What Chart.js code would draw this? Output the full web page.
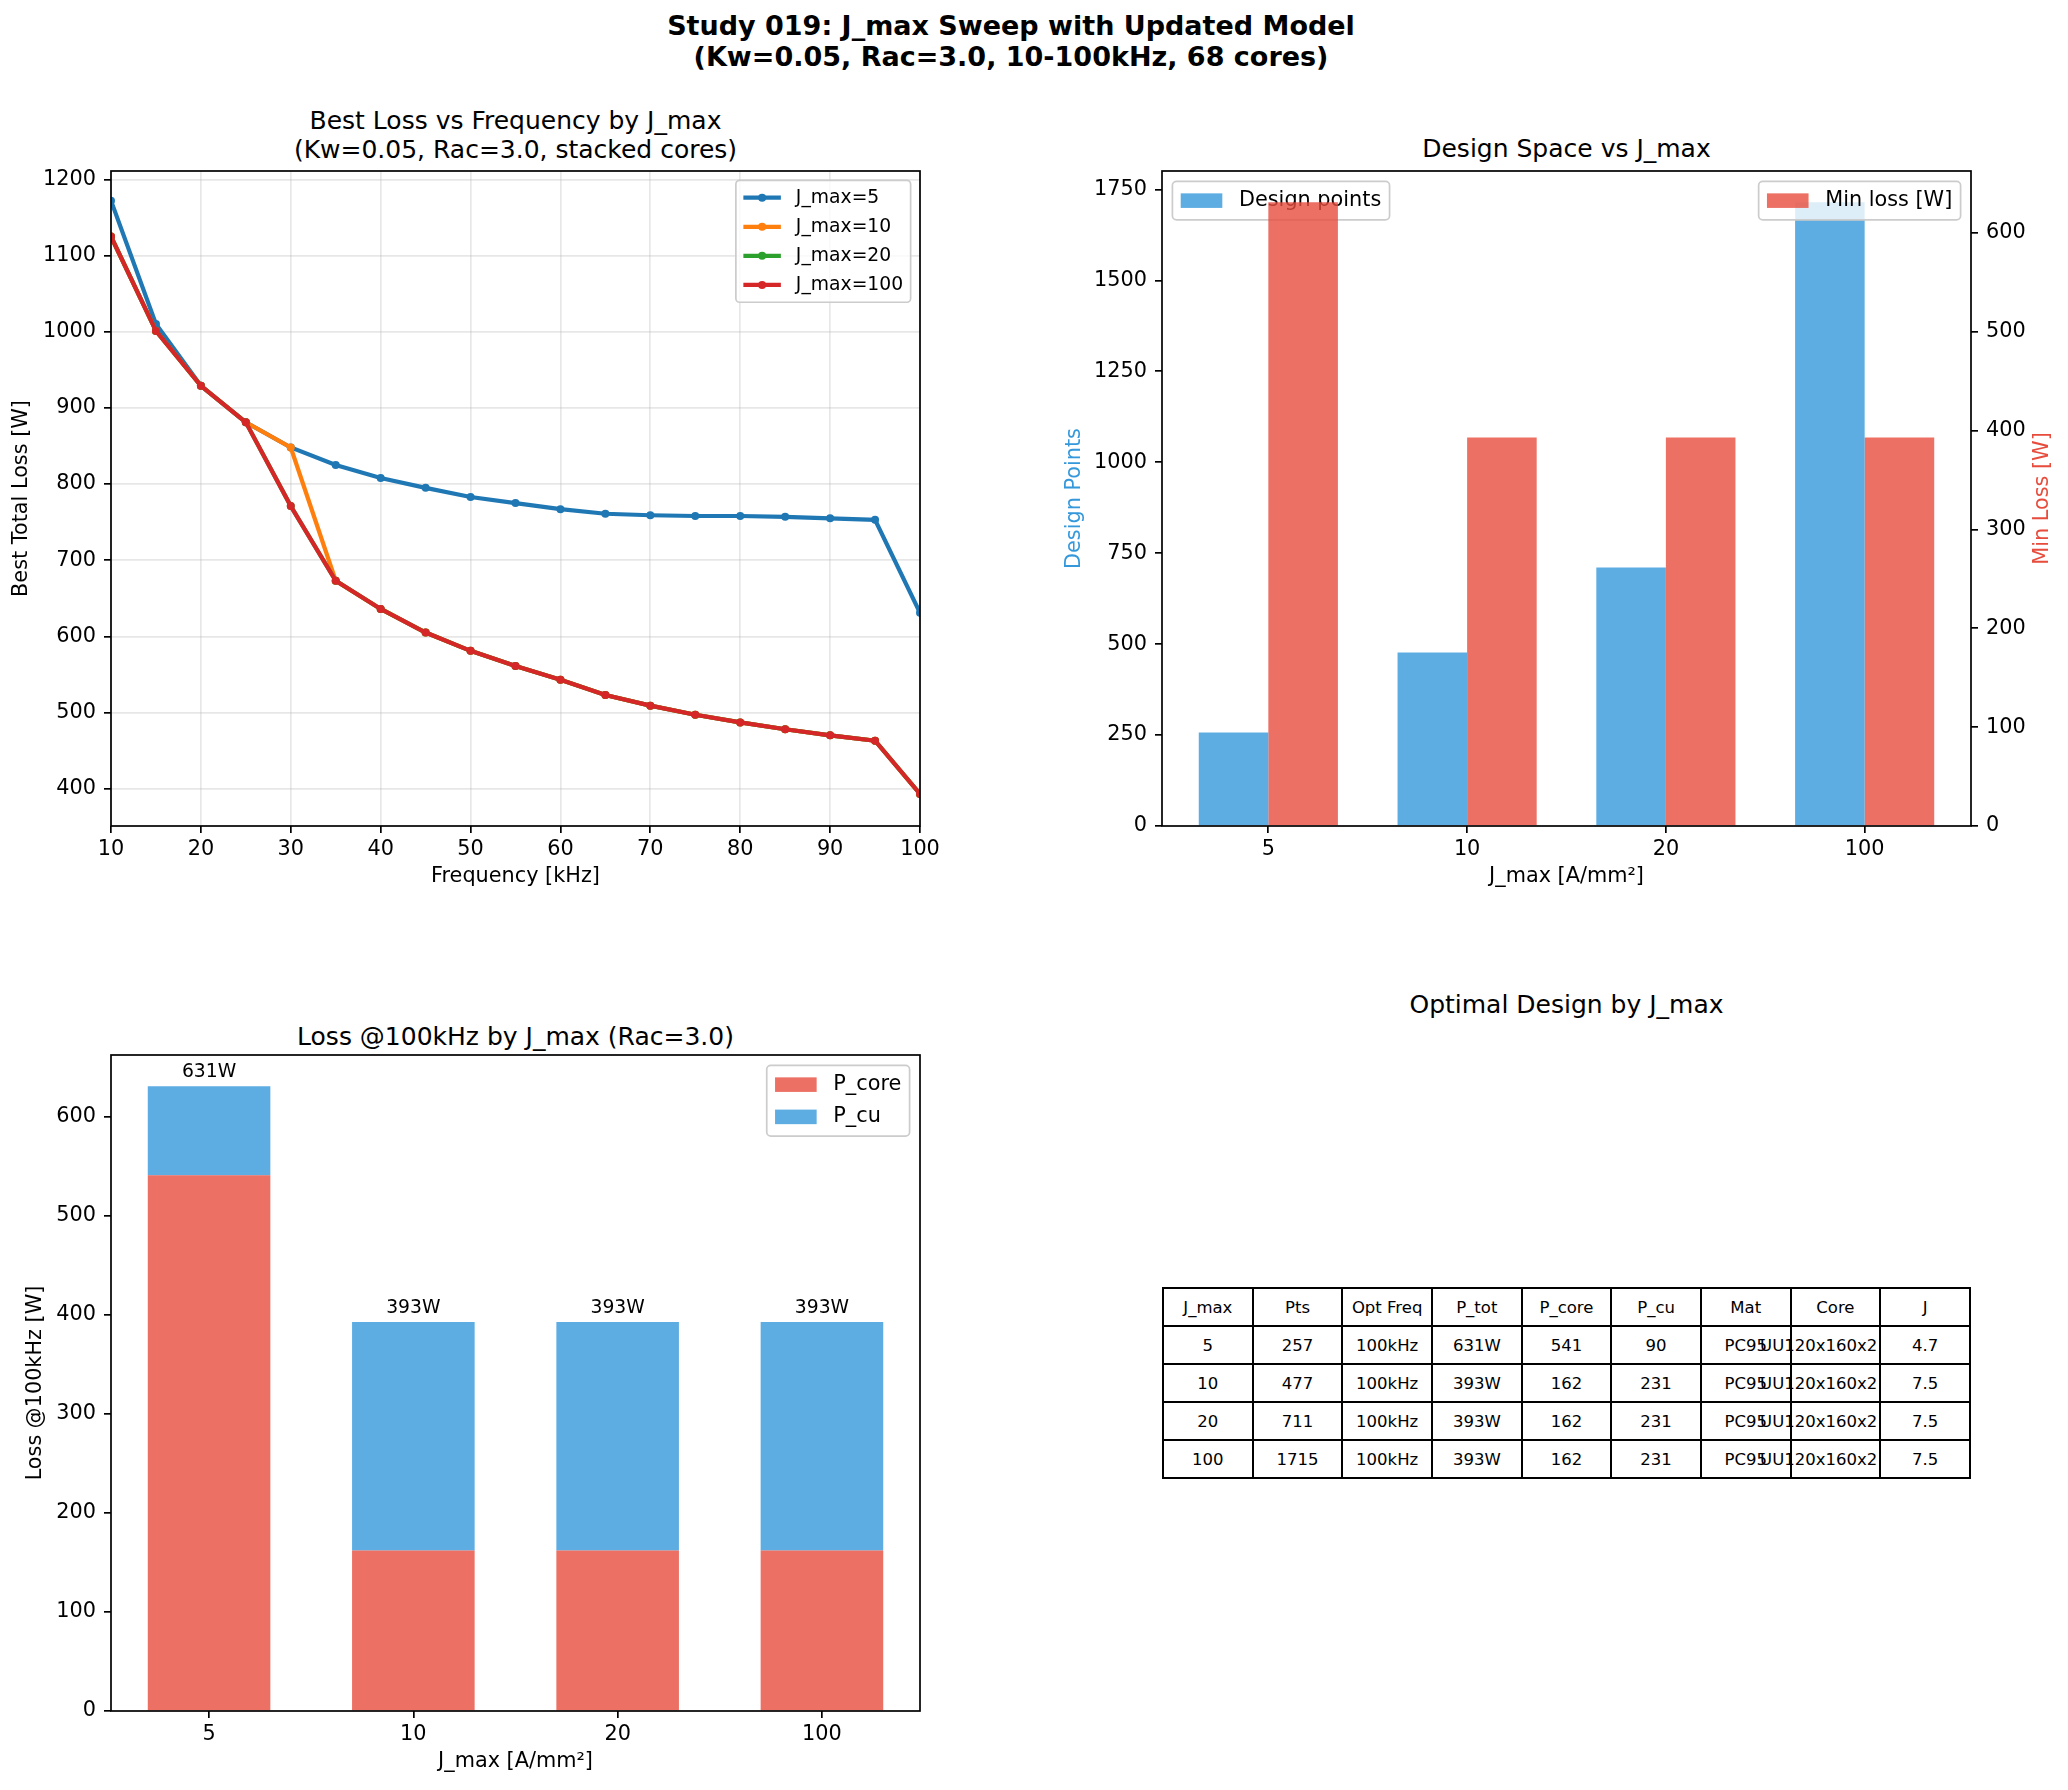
<!DOCTYPE html>
<html>
<head>
<meta charset="utf-8">
<script src="https://cdn.jsdelivr.net/npm/chart.js@4.4.1/dist/chart.umd.min.js"></script>
<style>
  html, body { margin: 0; padding: 0; background: #fff; }
  body { width: 2068px; height: 1790px; position: relative; overflow: hidden;
         font-family: "DejaVu Sans", sans-serif; color: #000; }
  .wrap { position: absolute; }
  .ttl { position: absolute; text-align: center; font-size: 25px; line-height: 29px; white-space: nowrap; }
  #sup { left: 0; width: 2022px; top: 10px; font-size: 27px; line-height: 31px; font-weight: bold; }
  #tbl { position: absolute; left: 1162px; top: 1287px; width: 809px; height: 192px;
         border-collapse: collapse; table-layout: fixed; font-size: 16.5px; }
  #tbl td { border: 2px solid #000; padding: 0; overflow: visible; text-align: center; }
  #tbl td div { display: flex; justify-content: center; white-space: nowrap; width: 100%; }
  #tbl td div.over { justify-content: flex-end; padding-right: 2px; box-sizing: border-box; }
</style>
</head>
<body>
<div id="sup" class="ttl">Study 019: J_max Sweep with Updated Model<br>(Kw=0.05, Rac=3.0, 10-100kHz, 68 cores)</div>
<div class="ttl" style="left:111px;width:809px;top:106px;">Best Loss vs Frequency by J_max<br>(Kw=0.05, Rac=3.0, stacked cores)</div>
<div class="ttl" style="left:1162px;width:809px;top:134px;">Design Space vs J_max</div>
<div class="ttl" style="left:111px;width:809px;top:1022px;">Loss @100kHz by J_max (Rac=3.0)</div>
<div class="ttl" style="left:1162px;width:809px;top:990px;">Optimal Design by J_max</div>

<div class="wrap" style="left:0;top:141px;width:1000px;height:759px;"><canvas id="c1"></canvas></div>
<div class="wrap" style="left:1040px;top:141px;width:1028px;height:759px;"><canvas id="c2"></canvas></div>
<div class="wrap" style="left:0;top:1025px;width:1000px;height:760px;"><canvas id="c3"></canvas></div>
<table id="tbl"></table>

<script>
// ---- data ----
const freqs = [10, 15, 20, 25, 30, 35, 40, 45, 50, 55, 60, 65, 70, 75, 80, 85, 90, 95, 100];
const lossJ5   = [1172, 1010, 929, 881, 848, 825, 808, 795, 783, 775, 767, 761, 759, 758, 758, 757, 755, 753, 631];
const lossJ10  = [1125, 1001, 929, 881, 848, 673, 636, 605, 581, 561, 543, 523, 509, 497, 487, 478, 470, 463, 393];
const lossJ20  = [1125, 1001, 929, 881, 771, 673, 636, 605, 581, 561, 543, 523, 509, 497, 487, 478, 470, 463, 393];
const lossJ100 = [1125, 1001, 929, 881, 771, 673, 636, 605, 581, 561, 543, 523, 509, 497, 487, 478, 470, 463, 393];
const freqTicks = [10, 20, 30, 40, 50, 60, 70, 80, 90, 100];
const lossTicks = [400, 500, 600, 700, 800, 900, 1000, 1100, 1200];

const jmaxLabels = ['5', '10', '20', '100'];
const designPoints = [257, 477, 711, 1715];
const minLoss = [631, 393, 393, 393];
const pointTicks = [0, 250, 500, 750, 1000, 1250, 1500, 1750];
const minLossTicks = [0, 100, 200, 300, 400, 500, 600];

const pCore = [541, 162, 162, 162];
const pCu = [90, 231, 231, 231];
const pTot = [631, 393, 393, 393];
const stackTicks = [0, 100, 200, 300, 400, 500, 600];

const tableHeader = ['J_max', 'Pts', 'Opt Freq', 'P_tot', 'P_core', 'P_cu', 'Mat', 'Core', 'J'];
const optFreqs = [100, 100, 100, 100];
const materials = ['PC95', 'PC95', 'PC95', 'PC95'];
const coreNames = ['UU120x160x2', 'UU120x160x2', 'UU120x160x2', 'UU120x160x2'];
const jValues = [4.7, 7.5, 7.5, 7.5];

// ---- style helpers ----
const FAM = '"DejaVu Sans", sans-serif';
const FS = 20.8;
Chart.defaults.font.family = FAM;
Chart.defaults.color = '#000';

const BLUE = 'rgba(52,152,219,0.8)';
const RED = 'rgba(231,76,60,0.8)';

function setTicks(vals) { return s => { s.ticks = vals.map(v => ({ value: v })); }; }
function fixW(w) { return s => { s.width = w; }; }
function fixH(h) { return s => { s.height = h; }; }
const plain = v => String(v);

function gridOpts(onArea) {
  return {
    drawOnChartArea: onArea,
    offset: false,
    color: onArea ? 'rgba(176,176,176,0.3)' : '#000',
    lineWidth: 1.7,
    tickColor: '#000',
    tickLength: 7,
    tickWidth: 1.7
  };
}

const framePlugin = {
  id: 'frame',
  afterDatasetsDraw(chart) {
    const a = chart.chartArea, c = chart.ctx;
    c.save();
    c.strokeStyle = '#000';
    c.lineWidth = 1.7;
    c.strokeRect(a.left, a.top, a.right - a.left, a.bottom - a.top);
    c.restore();
  }
};

// matplotlib-like legend drawn inside the axes
function drawLegend(chart, items, corner, fs) {
  const ctx = chart.ctx, a = chart.chartArea;
  ctx.save();
  ctx.font = fs + 'px ' + FAM;
  const pad = 0.4 * fs, hl = 2 * fs, htp = 0.8 * fs, ls = 0.5 * fs, rowH = 1.05 * fs;
  const maxW = Math.max(...items.map(it => ctx.measureText(it.label).width));
  const w = 2 * pad + hl + htp + maxW;
  const h = 2 * pad + items.length * rowH + (items.length - 1) * ls;
  const x0 = corner === 'left' ? a.left + 0.5 * fs : a.right - 0.5 * fs - w;
  const y0 = a.top + 0.5 * fs;
  ctx.fillStyle = 'rgba(255,255,255,0.8)';
  ctx.strokeStyle = '#cccccc';
  ctx.lineWidth = 1.7;
  ctx.beginPath();
  ctx.roundRect(x0, y0, w, h, 0.2 * fs);
  ctx.fill();
  ctx.stroke();
  items.forEach((it, i) => {
    const cy = y0 + pad + i * (rowH + ls) + rowH / 2;
    const hx = x0 + pad;
    if (it.type === 'line') {
      ctx.strokeStyle = it.color;
      ctx.lineWidth = 4.2;
      ctx.beginPath();
      ctx.moveTo(hx, cy);
      ctx.lineTo(hx + hl, cy);
      ctx.stroke();
      ctx.fillStyle = it.color;
      ctx.beginPath();
      ctx.arc(hx + hl / 2, cy, 4, 0, Math.PI * 2);
      ctx.fill();
    } else {
      ctx.fillStyle = it.color;
      ctx.fillRect(hx, cy - 0.35 * fs, hl, 0.7 * fs);
    }
    ctx.fillStyle = '#000';
    ctx.textBaseline = 'middle';
    ctx.textAlign = 'left';
    ctx.fillText(it.label, hx + hl + htp, cy);
  });
  ctx.restore();
}

function legendItems(chart, idx, type) {
  return idx.map(i => {
    const ds = chart.data.datasets[i];
    return { label: ds.label, color: ds.borderColor || ds.backgroundColor, type: type };
  });
}

const tickFont = { family: FAM, size: FS };

// ---- chart 1: best loss vs frequency ----
function lineSet(label, vals, color, order) {
  return {
    label: label,
    data: freqs.map((f, i) => ({ x: f, y: vals[i] })),
    borderColor: color,
    backgroundColor: color,
    borderWidth: 4.2,
    pointRadius: 4,
    pointBorderWidth: 0,
    pointBackgroundColor: color,
    clip: 0,
    order: order
  };
}

new Chart(document.getElementById('c1'), {
  type: 'line',
  data: {
    datasets: [
      lineSet('J_max=5', lossJ5, '#1f77b4', 3),
      lineSet('J_max=10', lossJ10, '#ff7f0e', 2),
      lineSet('J_max=20', lossJ20, '#2ca02c', 1),
      lineSet('J_max=100', lossJ100, '#d62728', 0)
    ]
  },
  options: {
    responsive: true,
    maintainAspectRatio: false,
    animation: false,
    events: [],
    layout: { padding: { left: 0, top: 30, right: 80, bottom: 0 } },
    plugins: { legend: { display: false }, tooltip: { enabled: false } },
    scales: {
      x: {
        type: 'linear', min: 10, max: 100, offset: false,
        afterBuildTicks: setTicks(freqTicks), afterFit: fixH(74),
        grid: gridOpts(true), border: { display: false },
        ticks: { color: '#000', font: tickFont, padding: 4, maxRotation: 0, autoSkip: false, callback: plain },
        title: { display: true, text: 'Frequency [kHz]', color: '#000', font: tickFont, padding: { top: 0, bottom: 10.5 } }
      },
      y: {
        type: 'linear', min: 351, max: 1211,
        afterBuildTicks: setTicks(lossTicks), afterFit: fixW(111),
        grid: gridOpts(true), border: { display: false },
        ticks: { color: '#000', font: tickFont, padding: 8, callback: plain },
        title: { display: true, text: 'Best Total Loss [W]', color: '#000', font: tickFont, padding: { top: 9.5, bottom: 0 } }
      }
    }
  },
  plugins: [framePlugin, {
    id: 'legend1',
    afterDatasetsDraw(chart) { drawLegend(chart, legendItems(chart, [0, 1, 2, 3], 'line'), 'right', 18.75); }
  }]
});

// ---- chart 2: design space ----
new Chart(document.getElementById('c2'), {
  type: 'bar',
  data: {
    datasets: [
      {
        label: 'Design points',
        data: designPoints.map((v, i) => ({ x: i, y: v })),
        backgroundColor: BLUE,
        yAxisID: 'y',
        categoryPercentage: 0.7, barPercentage: 1.0
      },
      {
        label: 'Min loss [W]',
        data: minLoss.map((v, i) => ({ x: i, y: v })),
        backgroundColor: RED,
        yAxisID: 'y2',
        categoryPercentage: 0.7, barPercentage: 1.0
      }
    ]
  },
  options: {
    responsive: true,
    maintainAspectRatio: false,
    animation: false,
    events: [],
    layout: { padding: { left: 0, top: 30, right: 0, bottom: 0 } },
    plugins: { legend: { display: false }, tooltip: { enabled: false } },
    scales: {
      x: {
        type: 'linear', min: -0.535, max: 3.535, offset: false,
        afterBuildTicks: setTicks([0, 1, 2, 3]), afterFit: fixH(74),
        grid: gridOpts(false), border: { display: false },
        ticks: { color: '#000', font: tickFont, padding: 4, maxRotation: 0, autoSkip: false, callback: v => jmaxLabels[v] },
        title: { display: true, text: 'J_max [A/mm²]', color: '#000', font: tickFont, padding: { top: 0, bottom: 10.5 } }
      },
      y: {
        type: 'linear', position: 'left', min: 0, max: 1800.75,
        afterBuildTicks: setTicks(pointTicks), afterFit: fixW(122),
        grid: gridOpts(false), border: { display: false },
        ticks: { color: '#000', font: tickFont, padding: 8, callback: plain },
        title: { display: true, text: 'Design Points', color: '#3498db', font: tickFont, padding: { top: 22.5, bottom: 0 } }
      },
      y2: {
        type: 'linear', position: 'right', min: 0, max: 662.55,
        afterBuildTicks: setTicks(minLossTicks), afterFit: fixW(97),
        grid: gridOpts(false), border: { display: false },
        ticks: { color: '#000', font: tickFont, padding: 8, callback: plain },
        title: { display: false }
      }
    }
  },
  plugins: [framePlugin, {
    id: 'legend2',
    beforeDatasetDraw(chart, args) {
      // left legend belongs to the first axes, so the twin (red) bars paint over it
      if (args.index === 1) drawLegend(chart, legendItems(chart, [0], 'patch'), 'left', FS);
    },
    afterDatasetsDraw(chart) { drawLegend(chart, legendItems(chart, [1], 'patch'), 'right', FS); },
    afterDraw(chart) {
      const c = chart.ctx, a = chart.chartArea;
      c.save();
      c.translate(2043 - 1040, (a.top + a.bottom) / 2);
      c.rotate(-Math.PI / 2);
      c.font = FS + 'px ' + FAM;
      c.fillStyle = '#e74c3c';
      c.textAlign = 'center';
      c.textBaseline = 'middle';
      c.fillText('Min Loss [W]', 0, 0);
      c.restore();
    }
  }]
});

// ---- chart 3: stacked loss at 100 kHz ----
new Chart(document.getElementById('c3'), {
  type: 'bar',
  data: {
    datasets: [
      {
        label: 'P_core',
        data: pCore.map((v, i) => ({ x: i, y: v })),
        backgroundColor: RED,
        categoryPercentage: 0.6, barPercentage: 1.0
      },
      {
        label: 'P_cu',
        data: pCu.map((v, i) => ({ x: i, y: v })),
        backgroundColor: BLUE,
        categoryPercentage: 0.6, barPercentage: 1.0
      }
    ]
  },
  options: {
    responsive: true,
    maintainAspectRatio: false,
    animation: false,
    events: [],
    layout: { padding: { left: 0, top: 30, right: 80, bottom: 0 } },
    plugins: { legend: { display: false }, tooltip: { enabled: false } },
    scales: {
      x: {
        type: 'linear', min: -0.48, max: 3.48, stacked: true, offset: false,
        afterBuildTicks: setTicks([0, 1, 2, 3]), afterFit: fixH(74),
        grid: gridOpts(false), border: { display: false },
        ticks: { color: '#000', font: tickFont, padding: 4, maxRotation: 0, autoSkip: false, callback: v => jmaxLabels[v] },
        title: { display: true, text: 'J_max [A/mm²]', color: '#000', font: tickFont, padding: { top: 0, bottom: 10.5 } }
      },
      y: {
        type: 'linear', min: 0, max: 662.55, stacked: true,
        afterBuildTicks: setTicks(stackTicks), afterFit: fixW(111),
        grid: gridOpts(false), border: { display: false },
        ticks: { color: '#000', font: tickFont, padding: 8, callback: plain },
        title: { display: true, text: 'Loss @100kHz [W]', color: '#000', font: tickFont, padding: { top: 23.5, bottom: 0 } }
      }
    }
  },
  plugins: [framePlugin, {
    id: 'barLabels',
    afterDatasetsDraw(chart) {
      const c = chart.ctx;
      const top = chart.getDatasetMeta(1).data;
      c.save();
      c.font = '18.75px ' + FAM;
      c.fillStyle = '#000';
      c.textAlign = 'center';
      c.textBaseline = 'alphabetic';
      top.forEach((el, i) => c.fillText(pTot[i] + 'W', el.x, el.y - 9));
      c.restore();
      drawLegend(chart, legendItems(chart, [0, 1], 'patch'), 'right', FS);
    }
  }]
});

// ---- table ----
const tbl = document.getElementById('tbl');
const rows = [tableHeader].concat(jmaxLabels.map((j, i) => [
  j, String(designPoints[i]), optFreqs[i] + 'kHz', pTot[i] + 'W',
  String(pCore[i]), String(pCu[i]), materials[i], coreNames[i], jValues[i].toFixed(1)
]));
rows.forEach(r => {
  const tr = document.createElement('tr');
  r.forEach(t => {
    const td = document.createElement('td');
    const d = document.createElement('div');
    d.textContent = t;
    td.appendChild(d);
    tr.appendChild(td);
  });
  tbl.appendChild(tr);
});
// text wider than its cell hugs the right edge, as in the source table
tbl.querySelectorAll('td div').forEach(d => {
  if (d.scrollWidth > d.clientWidth + 1) d.classList.add('over');
});
</script>
</body>
</html>
